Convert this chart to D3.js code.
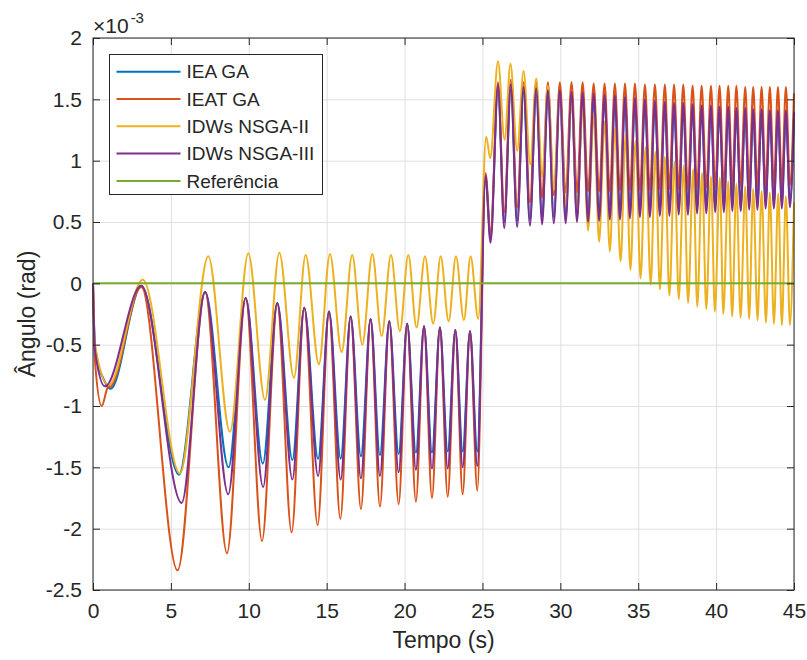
<!DOCTYPE html>
<html>
<head>
<meta charset="utf-8">
<script src="https://cdn.jsdelivr.net/npm/d3@7"></script>
<style>
  body { margin: 0; background: #fff; }
  text { font-family: 'Liberation Sans', Arial, Helvetica, sans-serif; fill: #262626; }
</style>
</head>
<body>
<div id="chart"></div>
<script>
// values in units of 1e-3 rad, [tempo (s), angulo]
const ieaGA = [[0, 0], [0.13, -0.52], [0.75, -0.8], [1.13, -0.86], [3.1, -0.02], [5.52, -1.56], [7.2, -0.07], [8.7, -1.5], [9.8, -0.12], [10.9, -1.47], [11.83, -0.16], [12.8, -1.44], [13.56, -0.2], [14.45, -1.43], [15.15, -0.23], [15.9, -1.43], [16.54, -0.27], [17.2, -1.41], [17.82, -0.29], [18.42, -1.4], [19.02, -0.31], [19.62, -1.39], [20.17, -0.33], [20.73, -1.38], [21.25, -0.35], [21.76, -1.38], [22.27, -0.36], [22.77, -1.37], [23.26, -0.38], [23.73, -1.37], [24.2, -0.39], [24.67, -1.37], [25.2, 0.86], [25.52, 0.36], [26.0, 1.58], [26.4, 0.5], [26.82, 1.58], [27.23, 0.51], [27.64, 1.56], [28.05, 0.52], [28.45, 1.55], [28.83, 0.53], [29.2, 1.54], [29.58, 0.54], [29.97, 1.54], [30.34, 0.54], [30.72, 1.52], [31.07, 0.55], [31.43, 1.52], [31.78, 0.55], [32.14, 1.51], [32.49, 0.56], [32.84, 1.5], [33.18, 0.57], [33.5, 1.49], [33.83, 0.57], [34.15, 1.48], [34.47, 0.58], [34.79, 1.47], [35.11, 0.59], [35.43, 1.46], [35.75, 0.59], [36.07, 1.45], [36.39, 0.6], [36.71, 1.44], [37.0, 0.6], [37.3, 1.43], [37.6, 0.61], [37.89, 1.43], [38.19, 0.61], [38.49, 1.42], [38.78, 0.62], [39.07, 1.41], [39.37, 0.62], [39.67, 1.41], [39.94, 0.63], [40.22, 1.4], [40.5, 0.63], [40.78, 1.4], [41.04, 0.64], [41.3, 1.39], [41.58, 0.64], [41.87, 1.39], [42.12, 0.65], [42.38, 1.38], [42.65, 0.65], [42.92, 1.38], [43.18, 0.66], [43.45, 1.37], [43.71, 0.66], [43.97, 1.37], [44.22, 0.66], [44.48, 1.37], [44.74, 0.67], [45, 1.34]]

const ieatGA = [[0, 0], [0.12, -0.62], [0.56, -1.0], [0.95, -0.85], [1.15, -0.84], [3.1, -0.03], [5.43, -2.34], [7.2, -0.07], [8.6, -2.2], [9.8, -0.12], [10.85, -2.1], [11.83, -0.17], [12.75, -2.03], [13.56, -0.2], [14.42, -1.97], [15.15, -0.24], [15.88, -1.92], [16.54, -0.27], [17.2, -1.84], [17.82, -0.29], [18.42, -1.82], [19.02, -0.31], [19.62, -1.8], [20.17, -0.33], [20.73, -1.78], [21.25, -0.35], [21.76, -1.75], [22.27, -0.36], [22.77, -1.74], [23.26, -0.38], [23.73, -1.72], [24.2, -0.39], [24.67, -1.69], [25.2, 0.9], [25.52, 0.4], [26.0, 1.64], [26.4, 0.58], [26.82, 1.66], [27.23, 0.62], [27.64, 1.64], [28.05, 0.66], [28.45, 1.64], [28.83, 0.7], [29.2, 1.64], [29.58, 0.72], [29.97, 1.64], [30.34, 0.74], [30.72, 1.64], [31.07, 0.74], [31.43, 1.64], [31.78, 0.75], [32.14, 1.63], [32.49, 0.75], [32.84, 1.63], [33.18, 0.75], [33.5, 1.63], [33.83, 0.76], [34.15, 1.63], [34.47, 0.76], [34.79, 1.63], [35.11, 0.76], [35.43, 1.62], [35.75, 0.76], [36.07, 1.62], [36.39, 0.77], [36.71, 1.62], [37.0, 0.77], [37.3, 1.62], [37.6, 0.77], [37.89, 1.62], [38.19, 0.77], [38.49, 1.61], [38.78, 0.78], [39.07, 1.61], [39.37, 0.78], [39.67, 1.61], [39.94, 0.78], [40.22, 1.61], [40.5, 0.78], [40.78, 1.61], [41.04, 0.78], [41.3, 1.61], [41.58, 0.79], [41.87, 1.6], [42.12, 0.79], [42.38, 1.6], [42.65, 0.79], [42.92, 1.6], [43.18, 0.79], [43.45, 1.6], [43.71, 0.79], [43.97, 1.6], [44.22, 0.8], [44.48, 1.6], [44.74, 0.8], [45, 1.55]]

const idwsNsga2 = [[0, 0], [0.13, -0.5], [1.0, -0.83], [3.2, 0.03], [5.58, -1.55], [7.4, 0.22], [8.79, -1.21], [9.97, 0.245], [11.04, -0.95], [11.96, 0.25], [12.9, -0.77], [13.65, 0.23], [14.5, -0.66], [15.21, 0.24], [15.96, -0.56], [16.64, 0.23], [17.29, -0.5], [17.93, 0.24], [18.53, -0.43], [19.13, 0.23], [19.7, -0.39], [20.24, 0.23], [20.77, -0.36], [21.31, 0.22], [21.84, -0.33], [22.32, 0.22], [22.83, -0.31], [23.3, 0.22], [23.81, -0.3], [24.24, 0.22], [24.73, -0.29], [25.24, 1.195], [25.5, 1.02], [26.0, 1.81], [26.42, 1.17], [26.8, 1.79], [27.23, 1.08], [27.64, 1.73], [28.07, 0.97], [28.45, 1.67], [28.84, 0.87], [29.2, 1.61], [29.59, 0.76], [29.97, 1.55], [30.34, 0.64], [30.72, 1.49], [31.07, 0.54], [31.43, 1.44], [31.78, 0.43], [32.14, 1.38], [32.49, 0.34], [32.84, 1.32], [33.18, 0.26], [33.5, 1.26], [33.87, 0.18], [34.19, 1.21], [34.5, 0.11], [34.83, 1.16], [35.15, 0.04], [35.47, 1.11], [35.8, -0.01], [36.1, 1.07], [36.39, -0.05], [36.71, 1.03], [37.0, -0.1], [37.33, 0.99], [37.6, -0.13], [37.93, 0.96], [38.2, -0.16], [38.53, 0.93], [38.79, -0.19], [39.1, 0.9], [39.37, -0.21], [39.67, 0.87], [39.92, -0.23], [40.24, 0.86], [40.46, -0.25], [40.78, 0.83], [41.03, -0.27], [41.3, 0.81], [41.57, -0.28], [41.87, 0.79], [42.12, -0.29], [42.38, 0.77], [42.66, -0.3], [42.92, 0.75], [43.2, -0.32], [43.45, 0.74], [43.71, -0.33], [43.99, 0.73], [44.22, -0.34], [44.48, 0.71], [44.74, -0.34], [45, 0.66]]

const idwsNsga3 = [[0, 0], [0.13, -0.55], [0.77, -0.84], [3.1, -0.02], [5.69, -1.79], [7.2, -0.07], [8.68, -1.72], [9.8, -0.12], [10.92, -1.66], [11.83, -0.16], [12.8, -1.6], [13.56, -0.2], [14.45, -1.57], [15.15, -0.23], [15.9, -1.6], [16.54, -0.27], [17.2, -1.59], [17.82, -0.29], [18.42, -1.57], [19.02, -0.31], [19.62, -1.54], [20.17, -0.33], [20.73, -1.52], [21.25, -0.35], [21.76, -1.51], [22.27, -0.36], [22.77, -1.51], [23.26, -0.38], [23.73, -1.5], [24.2, -0.39], [24.67, -1.49], [25.2, 0.88], [25.52, 0.33], [26.0, 1.62], [26.4, 0.45], [26.82, 1.62], [27.23, 0.46], [27.64, 1.6], [28.05, 0.47], [28.45, 1.59], [28.83, 0.48], [29.2, 1.575], [29.58, 0.49], [29.97, 1.575], [30.34, 0.49], [30.72, 1.56], [31.07, 0.5], [31.43, 1.555], [31.78, 0.5], [32.14, 1.55], [32.49, 0.51], [32.84, 1.535], [33.18, 0.52], [33.5, 1.53], [33.83, 0.52], [34.15, 1.52], [34.47, 0.53], [34.79, 1.51], [35.11, 0.54], [35.43, 1.5], [35.75, 0.54], [36.07, 1.49], [36.39, 0.55], [36.71, 1.48], [37.0, 0.55], [37.3, 1.47], [37.6, 0.56], [37.89, 1.47], [38.19, 0.56], [38.49, 1.46], [38.78, 0.57], [39.07, 1.45], [39.37, 0.57], [39.67, 1.45], [39.94, 0.58], [40.22, 1.44], [40.5, 0.58], [40.78, 1.44], [41.04, 0.59], [41.3, 1.43], [41.58, 0.59], [41.87, 1.43], [42.12, 0.6], [42.38, 1.42], [42.65, 0.6], [42.92, 1.42], [43.18, 0.61], [43.45, 1.41], [43.71, 0.61], [43.97, 1.41], [44.22, 0.61], [44.48, 1.41], [44.74, 0.62], [45, 1.4]]

const referencia = [[0, 0], [45, 0]]

const seriesNames = ['IEA GA', 'IEAT GA', 'IDWs NSGA-II', 'IDWs NSGA-III', 'Referência']
const seriesColors = ['#0072BD', '#D95319', '#EDB120', '#7E2F8E', '#77AC30']
const xTicks = [0, 5, 10, 15, 20, 25, 30, 35, 40, 45]
const yTicks = [-2.5, -2, -1.5, -1, -0.5, 0, 0.5, 1, 1.5, 2]

const margin = {
  top: 38, right: 13, bottom: 70, left: 93
}
const width = 807 - margin.left - margin.right
const height = 660 - margin.top - margin.bottom
const axisColor = '#262626'

const svg = d3.select('#chart')
  .append('svg')
  .attr('width', 807)
  .attr('height', 660)
  .append('g')
  .attr('transform', `translate(${margin.left},${margin.top})`)

const x = d3.scaleLinear().domain([0, 45]).range([0, width])
const y = d3.scaleLinear().domain([-2.5, 2]).range([height, 0])

// grid
svg.append('g')
  .attr('transform', `translate(0,${height})`)
  .call(d3.axisBottom(x).tickValues(xTicks).tickSize(-height).tickFormat(''))
  .call(g => g.select('.domain').remove())
  .call(g => g.selectAll('line').attr('stroke', '#dfdfdf'))
svg.append('g')
  .call(d3.axisLeft(y).tickValues(yTicks).tickSize(-width).tickFormat(''))
  .call(g => g.select('.domain').remove())
  .call(g => g.selectAll('line').attr('stroke', '#dfdfdf'))

// lines
const line = d3.line()
  .x(d => x(d[0]))
  .y(d => y(d[1]))
  .curve(d3.curveMonotoneX)

const allSeries = [ieaGA, ieatGA, idwsNsga2, idwsNsga3, referencia]
svg.append('g')
  .selectAll('path')
  .data(allSeries)
  .enter()
  .append('path')
  .attr('d', line)
  .attr('fill', 'none')
  .attr('stroke', (_, i) => seriesColors[i])
  .attr('stroke-width', 2)
  .attr('stroke-linejoin', 'round')

// axes, ticks inside on all four sides
const styleAxis = (g) => {
  g.select('.domain').remove()
  g.selectAll('line').attr('stroke', axisColor)
  g.selectAll('text')
    .style('font-size', '21px')
    .style('font-family', "'Liberation Sans', Arial, sans-serif")
    .attr('fill', axisColor)
}
svg.append('g')
  .attr('transform', `translate(0,${height})`)
  .call(d3.axisBottom(x).tickValues(xTicks).tickSizeInner(-7).tickSizeOuter(0).tickPadding(13).tickFormat(d3.format('d')))
  .call(styleAxis)
svg.append('g')
  .call(d3.axisTop(x).tickValues(xTicks).tickSizeInner(-7).tickSizeOuter(0).tickFormat(''))
  .call(styleAxis)
svg.append('g')
  .call(d3.axisLeft(y).tickValues(yTicks).tickSizeInner(-7).tickSizeOuter(0).tickPadding(11).tickFormat(d => String(d)))
  .call(styleAxis)
svg.append('g')
  .attr('transform', `translate(${width},0)`)
  .call(d3.axisRight(y).tickValues(yTicks).tickSizeInner(-7).tickSizeOuter(0).tickFormat(''))
  .call(styleAxis)

svg.append('rect')
  .attr('x', 0)
  .attr('y', 0)
  .attr('width', width)
  .attr('height', height)
  .attr('fill', 'none')
  .attr('stroke', axisColor)
  .attr('stroke-width', 1)

// exponent label
const expo = svg.append('text')
  .attr('x', 0)
  .attr('y', -5)
  .style('font-size', '21px')
expo.append('tspan').text('×10')
expo.append('tspan')
  .attr('dy', -10)
  .attr('dx', 2)
  .style('font-size', '15px')
  .text('-3')

// axis labels
svg.append('text')
  .attr('x', width / 2)
  .attr('y', height + 58)
  .style('text-anchor', 'middle')
  .style('font-size', '23px')
  .text('Tempo (s)')

svg.append('text')
  .attr('transform', `translate(${35 - margin.left},${height / 2}) rotate(-90)`)
  .style('text-anchor', 'middle')
  .style('font-size', '23px')
  .text('Ângulo (rad)')

// legend
const legend = svg.append('g')
  .attr('transform', 'translate(16.5,16.5)')
legend.append('rect')
  .attr('width', 213)
  .attr('height', 140)
  .attr('fill', '#fff')
  .attr('stroke', axisColor)
  .attr('stroke-width', 1)

const rows = legend.selectAll('.legend')
  .data(seriesNames)
  .enter()
  .append('g')
  .attr('class', 'legend')
  .attr('transform', (_, i) => `translate(0,${17.2 + i * 27.3})`)

rows.append('line')
  .attr('x1', 7)
  .attr('x2', 71)
  .attr('stroke', (_, i) => seriesColors[i])
  .attr('stroke-width', 2)

rows.append('text')
  .attr('x', 77)
  .attr('dy', '0.35em')
  .style('font-size', '19px')
  .text(d => d)
</script>
</body>
</html>
